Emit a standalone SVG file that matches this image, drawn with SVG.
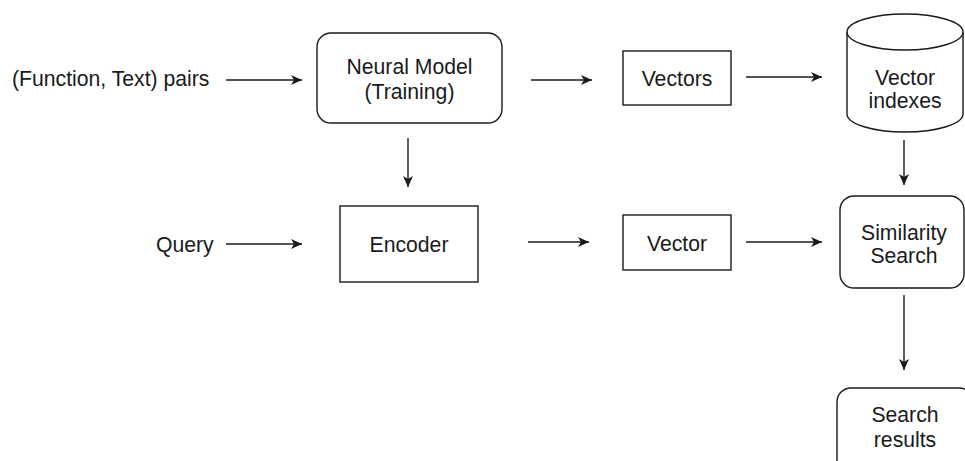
<svg xmlns="http://www.w3.org/2000/svg" width="965" height="461" viewBox="0 0 965 461">
  <style>
    .shape { fill: #ffffff; stroke: #1a1a1a; stroke-width: 1.4; }
    .label { font-family: "Liberation Sans", Arial, sans-serif; font-size: 21.2px; fill: #1a1a1a; }
    .mid { text-anchor: middle; }
    .edge { stroke: #1a1a1a; stroke-width: 1.4; fill: none; marker-end: url(#arrow); }
  </style>
  <defs>
    <marker id="arrow" markerWidth="12" markerHeight="12" refX="11" refY="6" orient="auto" markerUnits="userSpaceOnUse">
      <path d="M0,1 L11,6 L0,11 L3,6 Z" fill="#1a1a1a"/>
    </marker>
  </defs>
  <rect width="965" height="461" fill="#ffffff"/>

  <g id="pairs">
    <text class="label" x="12" y="86">(Function, Text) pairs</text>
  </g>
  <g id="neural-model">
    <rect class="shape" x="317" y="33" width="185" height="90" rx="14" ry="14"/>
    <text class="label mid" x="409.5" y="74">Neural Model</text>
    <text class="label mid" x="409.5" y="99">(Training)</text>
  </g>
  <g id="vectors">
    <rect class="shape" x="623" y="51" width="108" height="54"/>
    <text class="label mid" x="677" y="86">Vectors</text>
  </g>
  <g id="vector-indexes">
    <path class="shape" d="M847,32 L847,114 A58,18 0 0 0 963,114 L963,32 A58,18 0 0 0 847,32 Z"/>
    <path class="shape" fill="none" d="M847,32 A58,18 0 0 0 963,32"/>
    <text class="label mid" x="905" y="85">Vector</text>
    <text class="label mid" x="905" y="108">indexes</text>
  </g>
  <g id="query">
    <text class="label" x="156" y="252">Query</text>
  </g>
  <g id="encoder">
    <rect class="shape" x="340" y="206" width="138" height="76"/>
    <text class="label mid" x="409" y="252">Encoder</text>
  </g>
  <g id="vector">
    <rect class="shape" x="623" y="215" width="108" height="55"/>
    <text class="label mid" x="677" y="251">Vector</text>
  </g>
  <g id="similarity-search">
    <rect class="shape" x="840" y="196" width="124" height="92" rx="14" ry="14"/>
    <text class="label mid" x="904" y="240">Similarity</text>
    <text class="label mid" x="904" y="263">Search</text>
  </g>
  <g id="search-results">
    <rect class="shape" x="837" y="388" width="136" height="90" rx="14" ry="14"/>
    <text class="label mid" x="905" y="422">Search</text>
    <text class="label mid" x="905" y="447">results</text>
  </g>

  <g id="connectors">
    <line class="edge" x1="226" y1="80" x2="302" y2="80"/>
    <line class="edge" x1="531" y1="80" x2="592" y2="80"/>
    <line class="edge" x1="746" y1="77" x2="822" y2="77"/>
    <line class="edge" x1="408" y1="138" x2="408" y2="187"/>
    <line class="edge" x1="904" y1="140" x2="904" y2="185"/>
    <line class="edge" x1="226" y1="244" x2="302" y2="244"/>
    <line class="edge" x1="528" y1="242" x2="589" y2="242"/>
    <line class="edge" x1="746" y1="242" x2="822" y2="242"/>
    <line class="edge" x1="904" y1="295" x2="904" y2="370"/>
  </g>
</svg>
